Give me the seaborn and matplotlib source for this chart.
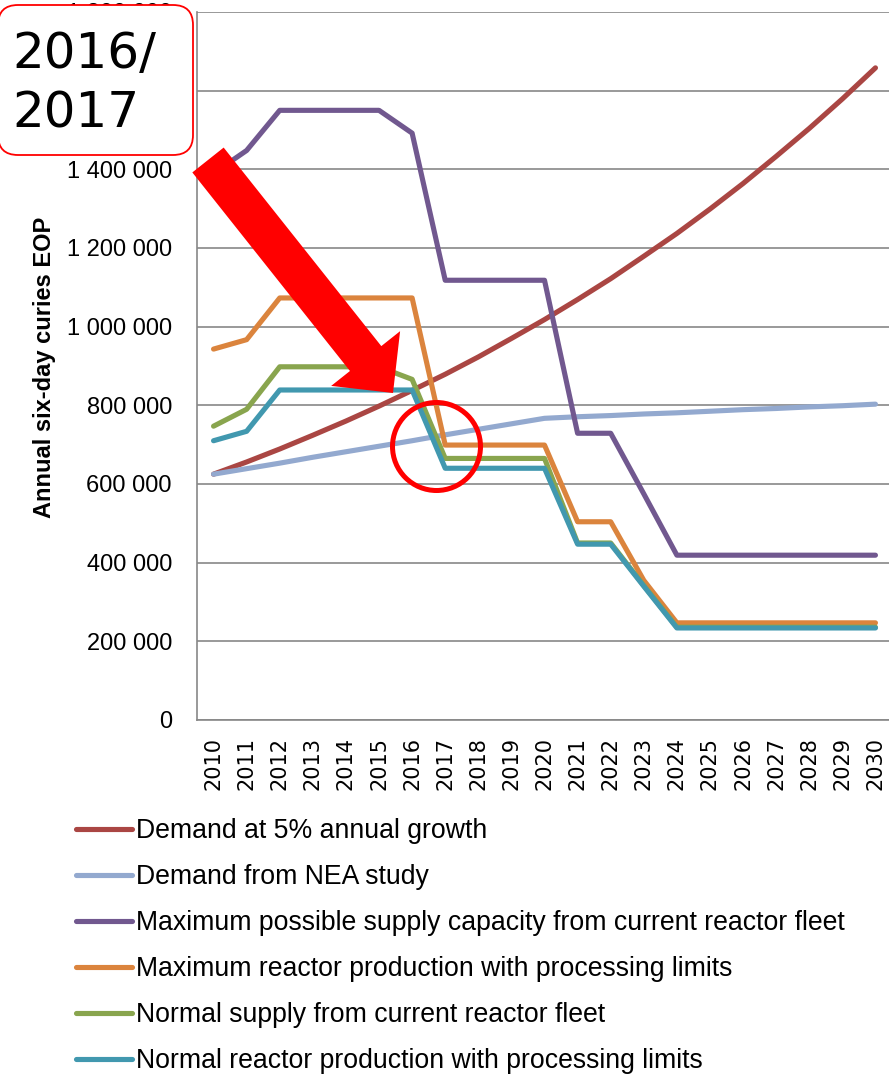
import seaborn as sns
import pandas as pd
import numpy as np
import matplotlib
matplotlib.use("Agg")
import matplotlib.pyplot as plt
from matplotlib.patches import Polygon, Ellipse, FancyBboxPatch
from matplotlib.lines import Line2D
from matplotlib.transforms import IdentityTransform

years = ["2010", "2011", "2012", "2013", "2014", "2015", "2016", "2017", "2018", "2019", "2020",
         "2021", "2022", "2023", "2024", "2025", "2026", "2027", "2028", "2029", "2030"]

demand_5pct = [625000, 656000, 689000, 724000, 760000, 798000, 838000, 879000, 923000, 970000, 1018000,
               1069000, 1122000, 1179000, 1237000, 1299000, 1364000, 1433000, 1504000, 1579000, 1658000]
demand_nea = [625000, 639000, 653000, 668000, 682000, 696000, 710000, 725000, 739000, 753000, 767000,
              771000, 774000, 778000, 781000, 785000, 789000, 792000, 796000, 799000, 803000]
max_supply = [1390000, 1448000, 1550000, 1550000, 1550000, 1550000, 1492000, 1118000, 1118000, 1118000, 1118000,
              729000, 729000, 575000, 419000, 419000, 419000, 419000, 419000, 419000, 419000]
max_processing = [943000, 967000, 1073000, 1073000, 1073000, 1073000, 1073000, 699000, 699000, 699000, 699000,
                  504000, 504000, 355000, 247000, 247000, 247000, 247000, 247000, 247000, 247000]
normal_supply = [747000, 790000, 898000, 898000, 898000, 898000, 866000, 665000, 665000, 665000, 665000,
                 450000, 450000, 342000, 236000, 236000, 236000, 236000, 236000, 236000, 236000]
normal_processing = [710000, 734000, 839000, 839000, 839000, 839000, 839000, 640000, 640000, 640000, 640000,
                     447000, 447000, 340000, 234000, 234000, 234000, 234000, 234000, 234000, 234000]

series_names = ["Demand at 5% annual growth",
                "Demand from NEA study",
                "Maximum possible supply capacity from current reactor fleet",
                "Maximum reactor production with processing limits",
                "Normal supply from current reactor fleet",
                "Normal reactor production with processing limits"]
series_values = [demand_5pct, demand_nea, max_supply, max_processing, normal_supply, normal_processing]
colors = ["#AA4643", "#93A9CF", "#71588F", "#DB843D", "#89A54E", "#4198AF"]

rows = []
for name, vals in zip(series_names, series_values):
    for i, v in enumerate(vals):
        rows.append({"pos": i, "value": v, "series": name})
df = pd.DataFrame(rows)

W, H = 889, 1074
sns.set_style("white")
plt.rcParams["text.color"] = "black"
plt.rcParams["xtick.color"] = "black"
plt.rcParams["ytick.color"] = "black"
fig = plt.figure(figsize=(W / 100, H / 100), dpi=100)
ax = fig.add_axes([197 / W, 1 - 720 / H, 695 / W, 708 / H])

sns.lineplot(data=df, x="pos", y="value", hue="series", hue_order=series_names,
             palette=colors, linewidth=3.7, legend=False, errorbar=None, ax=ax)
for ln in ax.lines:
    ln.set_solid_capstyle("round")
    ln.set_solid_joinstyle("round")

grid_c = "#878787"
ax.set_xlim(-0.5, 20.5)
ax.set_ylim(0, 1800000)
ax.set_xticks(np.arange(-0.5, 21, 1))
ax.set_xticklabels([])
ax.set_xticks(range(len(years)), minor=True)
ax.set_xticklabels(years, minor=True, rotation=90, fontsize=15, family="DejaVu Sans")
ax.tick_params(axis="x", which="major", length=6, width=1.2, color=grid_c, direction="out")
ax.tick_params(axis="x", which="minor", length=0, pad=12, labelcolor="black")

yt = list(range(0, 1800001, 200000))
ax.set_yticks(yt)
ax.set_yticklabels([f"{v:,}".replace(",", " ") for v in yt], fontsize=17, family="Liberation Sans")
ax.tick_params(axis="y", length=6, width=1.2, color=grid_c, direction="out", pad=12, labelcolor="black")
ax.yaxis.grid(True, color=grid_c, linewidth=1.2)
ax.set_axisbelow(True)
for s in ["top", "right"]:
    ax.spines[s].set_visible(False)
for s in ["left", "bottom"]:
    ax.spines[s].set_color(grid_c)
    ax.spines[s].set_linewidth(1.2)
ax.set_xlabel("")
ax.set_ylabel("")

fig.text(45 / W, 1 - 367 / H, "Annual six-day curies EOP", rotation=90, ha="center", va="center",
         fontsize=17, fontweight="bold", family="Liberation Sans", color="black")

handles = [Line2D([0], [0], color=c, linewidth=3.7, solid_capstyle="round") for c in colors]
fig.legend(handles, series_names, loc="upper left", bbox_to_anchor=(76 / W, 1 - 818 / H),
           frameon=False, handlelength=2.1, handletextpad=0.15, labelspacing=0.75,
           borderpad=0, borderaxespad=0, labelcolor="black",
           prop={"family": "Liberation Sans", "size": 19.2})

# annotations in pixel space (top-down pixel coords converted)
def disp(x, y):
    return (x, H - y)

box = FancyBboxPatch(disp(-2, 155), 195, 150, boxstyle="round,pad=0,rounding_size=20",
                     transform=IdentityTransform(), facecolor="white", edgecolor="red",
                     linewidth=1.3, zorder=5)
fig.add_artist(box)
fig.text(12 / W, 1 - 30 / H, "2016/\n2017", ha="left", va="top", fontsize=36,
         family="DejaVu Sans", linespacing=1.3, color="black", zorder=6)

T = np.array([208.0, 160.0])
P = np.array([393.0, 393.0])
d = (P - T) / np.linalg.norm(P - T)
n = np.array([d[1], -d[0]])
B = P - 44 * d
pts = [T + 20 * n, B + 20 * n, B + 44 * n, P, B - 44 * n, B - 20 * n, T - 20 * n]
arrow = Polygon([disp(*p) for p in pts], closed=True, transform=IdentityTransform(),
                facecolor="red", edgecolor="none", zorder=5)
fig.add_artist(arrow)

circ = Ellipse(disp(436.5, 446.5), 88, 88, transform=IdentityTransform(), facecolor="none",
               edgecolor="red", linewidth=3.6, zorder=5)
fig.add_artist(circ)

fig.savefig("out.png", dpi=100)
